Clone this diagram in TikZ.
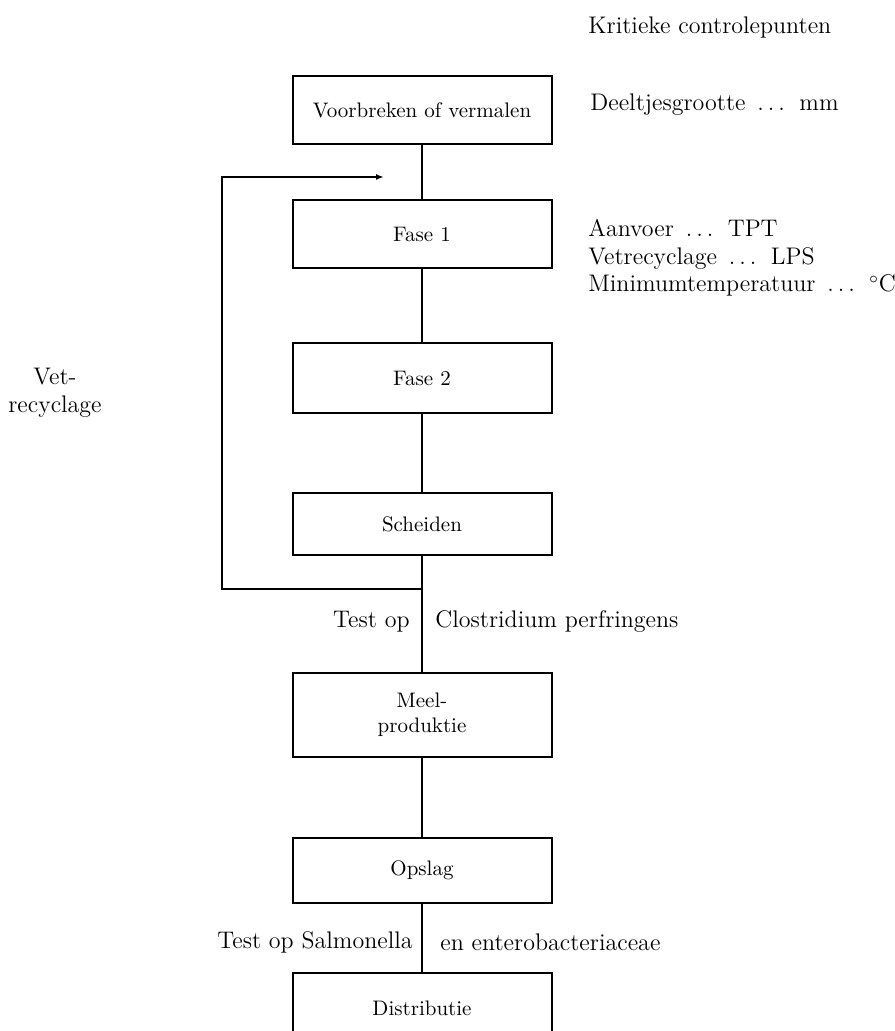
\documentclass[tikz,border=0pt]{standalone}
\usepackage{tikz}
\usetikzlibrary{arrows.meta}

\begin{document}
\begin{tikzpicture}[x=0.5pt,y=-0.5pt,
    stage/.style ={rectangle, draw, line width=1pt, minimum width=129.5pt, inner sep=0pt, font=\fontsize{10.5}{12.5}\selectfont, align=center},
    remark/.style ={inner sep=0pt, font=\fontsize{12}{13.75}\selectfont, align=left}]
   \clip (0,0) rectangle (894,1031);
   \node[remark, anchor=west] (kop) at (588,28) {Kritieke controlepunten};
   \node[stage, minimum height=34pt] (breken) at (422,110) {Voorbreken of vermalen};
   \node[stage, minimum height=34pt] (fase1) at (422,234) {Fase 1};
   \node[stage, minimum height=35pt] (fase2) at (422,378) {Fase 2};
   \node[stage, minimum height=31pt] (scheiden) at (422,524) {Scheiden};
   \node[stage, minimum height=42pt] (meel) at (422,715) {Meel-\\produktie};
   \node[stage, minimum height=32.5pt] (opslag) at (422,870) {Opslag};
   \node[stage, minimum height=35pt] (distributie) at (422,1008) {Distributie};
   \node[remark, anchor=west] (deeltjes) at (590,105) {Deeltjesgrootte \,.\,.\,.\, mm};
   \node[remark, anchor=west] (fasepunten) at (588,258) {Aanvoer \,.\,.\,.\, TPT\\Vetrecyclage \,.\,.\,.\, LPS\\Minimumtemperatuur \,.\,.\,.\, $^\circ$C};
   \node[remark, align=center] (vet) at (55,393) {Vet-\\recyclage};
   \node[remark, anchor=east] (test1) at (410,622) {Test op};
   \node[remark, anchor=west] (clostridium) at (435,622) {Clostridium perfringens};
   \node[remark, anchor=east] (test2) at (413,942) {Test op Salmonella};
   \node[remark, anchor=west] (entero) at (440,942) {en enterobacteriaceae};
   \coordinate (terug) at (422,589);
   \coordinate (lus) at (222,589);
   \coordinate (pijl) at (384,177);
   \draw[line width=1pt] (breken) to (fase1);
   \draw[line width=1pt] (fase1) to (fase2);
   \draw[line width=1pt] (fase2) to (scheiden);
   \draw[line width=1pt] (scheiden) to (meel);
   \draw[line width=1pt] (meel) to (opslag);
   \draw[line width=1pt] (opslag) to (distributie);
   \draw[line width=1pt, -{Latex[length=4pt,width=3pt]}] (terug) -- (lus) |- (pijl);
 \end{tikzpicture}
\end{document}
